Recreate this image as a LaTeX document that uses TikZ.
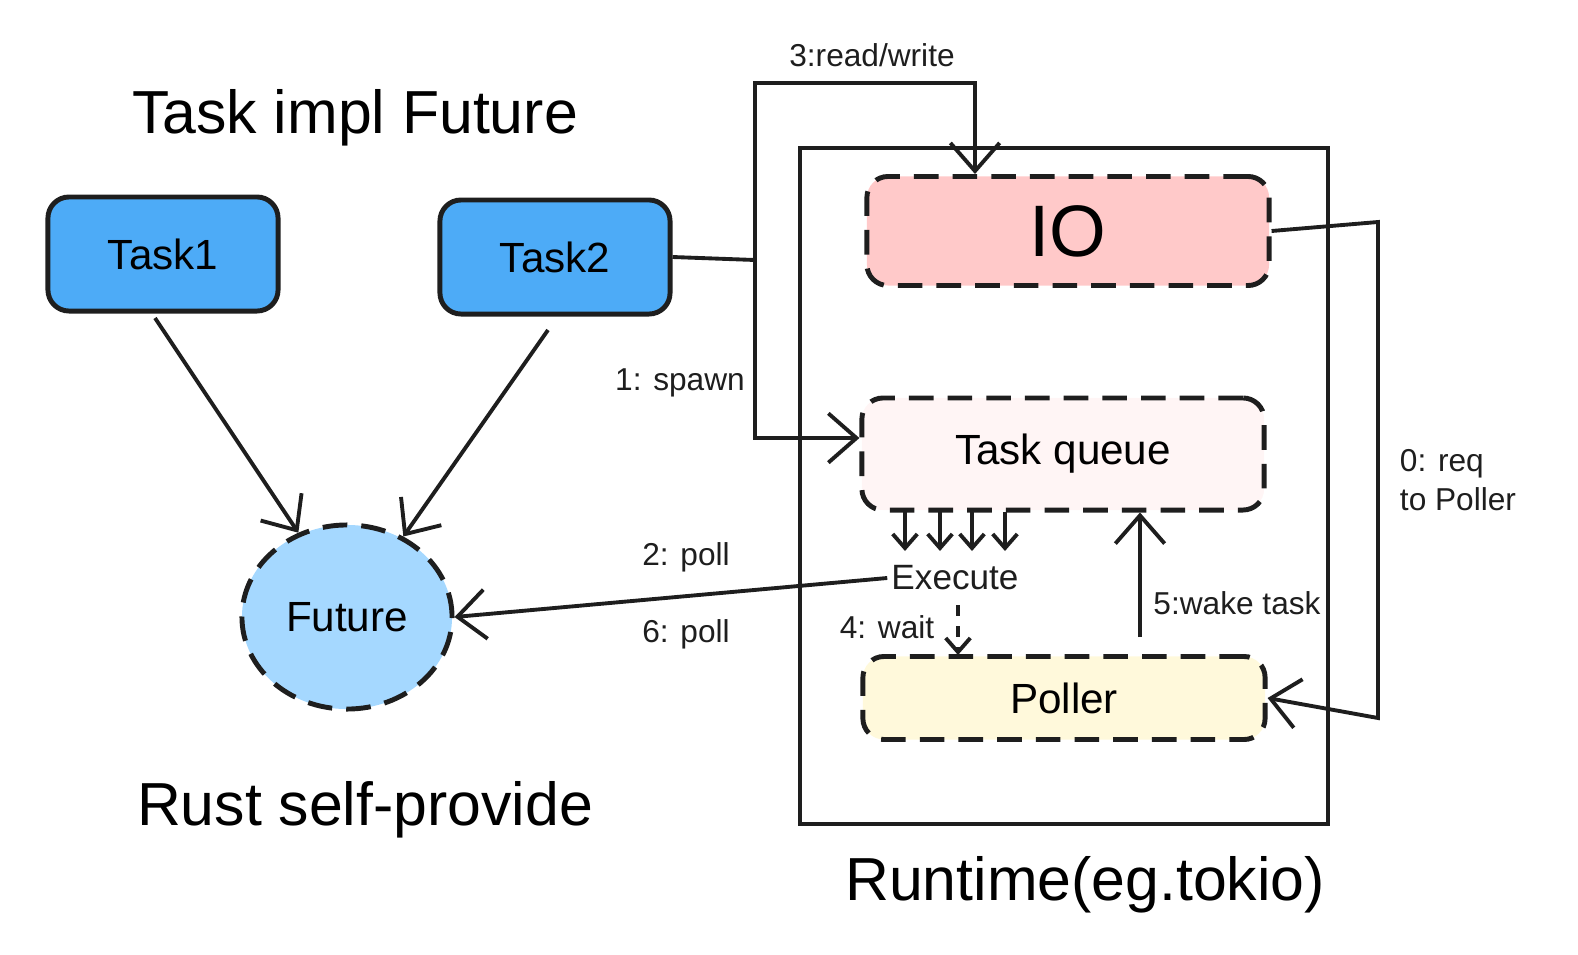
\documentclass[tikz,border=0pt]{standalone}
\usepackage{fontspec}
\setmainfont{Liberation Sans}
\usetikzlibrary{arrows.meta,shapes.geometric}
\pgfdeclarelayer{edgelayer}
\pgfdeclarelayer{nodelayer}
\pgfsetlayers{edgelayer,nodelayer,main}
\definecolor{taskblue}{HTML}{4DABF7}
\definecolor{futblue}{HTML}{A5D8FF}
\definecolor{iored}{HTML}{FFC9C9}
\definecolor{queuepink}{HTML}{FFF5F5}
\definecolor{pollyellow}{HTML}{FFF9DB}
\definecolor{ink}{HTML}{1E1E1E}
\tikzstyle{none}=[inner sep=0pt]
\tikzstyle{task}=[rectangle,rounded corners=6pt,fill=taskblue,draw=ink,line width=1.4,minimum width=2.3cm,minimum height=1.14cm,font=\large]
\tikzstyle{part}=[rectangle,rounded corners=6pt,draw=ink,dashed,dash pattern=on 7pt off 4pt,line width=1.4,minimum width=4.02cm]
\tikzstyle{label}=[inner sep=1pt,text=ink,font=\small]
\tikzstyle{inarrow}=[-{Straight Barb[length=8pt,width=14pt]},draw=ink,line width=1.1]
\tikzstyle{line}=[-,draw=ink,line width=1.1]
\begin{document}
\begin{tikzpicture}[x=0.01cm,y=-0.01cm]
	\useasboundingbox (0,0) rectangle (1578,954);
	\begin{pgfonlayer}{nodelayer}
		\node [style=none,font=\LARGE] (title) at (355,118) {Task impl Future};
		\node [style=task] (t1) at (163,254) {Task1};
		\node [style=task] (t2) at (555,257) {Task2};
		\node [ellipse,inner sep=0pt,fill=futblue,draw=ink,dash pattern=on 7pt off 4pt,line width=1.4,minimum width=2.1cm,minimum height=1.84cm,font=\large] (fut) at (347,617) {Future};
		\node [style=none,font=\LARGE] (rust) at (365,810) {Rust self-provide};
		\node [rectangle,draw=ink,line width=1.1,minimum width=5.28cm,minimum height=6.76cm] (rt) at (1064,486) {};
		\node [style=none,font=\LARGE] (rtl) at (1085,885) {Runtime(eg.tokio)};
		\node [style=part,fill=iored,minimum height=1.09cm,font=\huge] (io) at (1068,231) {IO};
		\node [style=part,fill=queuepink,minimum height=1.12cm,font=\large] (queue) at (1063,454) {Task queue};
		\node [style=part,fill=pollyellow,minimum height=0.83cm,font=\large] (poller) at (1064,698) {Poller};
		\node [style=label,font=\normalsize] (exec) at (955,578) {Execute};
		\node [style=label] (l3) at (872,55) {3:read/write};
		\node [style=label] (l1) at (680,383) {1: spawn};
		\node [style=label] (l2) at (686,557) {2: poll};
		\node [style=label] (l6) at (686,634) {6: poll};
		\node [style=label] (l4) at (887,627) {4: wait};
		\node [style=label] (l5) at (1237,603) {5:wake task};
		\node [style=label,align=left] (l0) at (1458,480) {0: req\\to Poller};
		\coordinate (sp) at (755,260);
		\coordinate (sptop) at (755,83);
		\coordinate (iotop) at (975,83);
		\coordinate (spbot) at (755,438);
		\coordinate (ioout) at (1378,222);
		\coordinate (pollin) at (1378,718);
	\end{pgfonlayer}
	\begin{pgfonlayer}{edgelayer}
		\draw [style=inarrow] (155,318) to (fut.120);
		\draw [style=inarrow] (548,330) to (fut.55);
		\draw [style=line] (t2.east) to (sp);
		\draw [style=inarrow] (sp) -- (sptop) -- (iotop) -- (io.north -| iotop);
		\draw [style=inarrow] (sp) -- (spbot) -- (queue.west |- spbot);
		\foreach \x in {905,940,972,1005}
			\draw [style=inarrow,-{Straight Barb[length=4pt,width=7pt]}] (\x,512) to (\x,551);
		\draw [style=inarrow] (exec.west) to (fut.east);
		\draw [style=inarrow,dashed,-{Straight Barb[length=4pt,width=7pt]}] (958,605) to (958,655);
		\draw [style=inarrow] (1140,637) to (queue.south -| 1140,0);
		\draw [style=inarrow] (io.east) -- (ioout) -- (pollin) -- (poller.east);
	\end{pgfonlayer}
\end{tikzpicture}
\end{document}
